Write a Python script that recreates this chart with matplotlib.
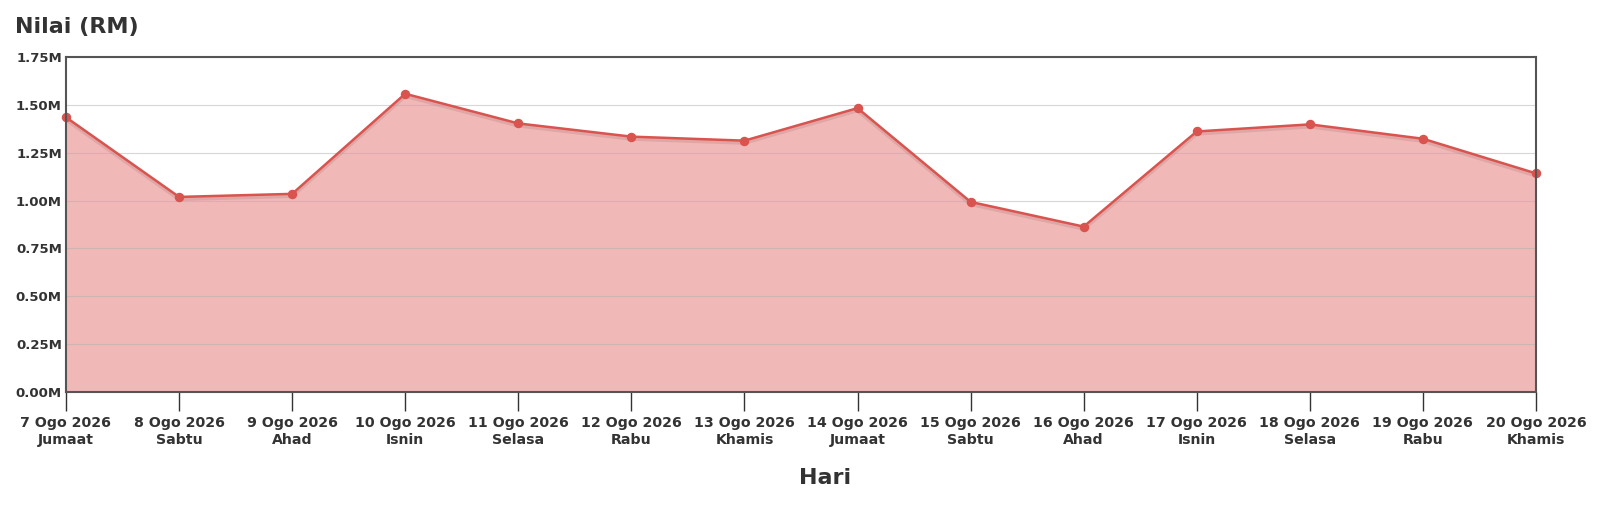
import matplotlib
matplotlib.use('Agg')
import matplotlib.pyplot as plt
import matplotlib.transforms as mtransforms
from matplotlib.ticker import FuncFormatter

# Data harian (nilai dalam juta RM)
tarikh = ['7 Ogo 2026', '8 Ogo 2026', '9 Ogo 2026', '10 Ogo 2026', '11 Ogo 2026',
          '12 Ogo 2026', '13 Ogo 2026', '14 Ogo 2026', '15 Ogo 2026', '16 Ogo 2026',
          '17 Ogo 2026', '18 Ogo 2026', '19 Ogo 2026', '20 Ogo 2026']
hari = ['Jumaat', 'Sabtu', 'Ahad', 'Isnin', 'Selasa', 'Rabu', 'Khamis',
        'Jumaat', 'Sabtu', 'Ahad', 'Isnin', 'Selasa', 'Rabu', 'Khamis']
nilai = [1.435, 1.019, 1.035, 1.558, 1.403, 1.334, 1.313,
         1.483, 0.993, 0.864, 1.361, 1.398, 1.323, 1.142]
y_ticks = [0, 0.25, 0.5, 0.75, 1.0, 1.25, 1.5, 1.75]

warna_garis = '#d9534f'
warna_isi = '#f0b9b8'
warna_teks = '#333333'

fig = plt.figure(figsize=(16, 5.23), dpi=100)
ax = fig.add_axes([66 / 1600, 1 - 392 / 523, 1470 / 1600, 335 / 523])

x = list(range(len(nilai)))
ax.fill_between(x, nilai, 0, color=warna_isi, zorder=1, linewidth=0)

# bayang garis
bayang = mtransforms.offset_copy(ax.transData, fig=fig, x=0, y=-1.5, units='points')
ax.plot(x, nilai, color='#c98a89', linewidth=3, alpha=0.4, transform=bayang, zorder=3)
ax.plot(x, nilai, color=warna_garis, linewidth=1.8, zorder=4)
ax.plot(x, nilai, 'o', color=warna_garis, markersize=5.8, zorder=5, clip_on=False)

ax.set_xlim(0, len(nilai) - 1)
ax.set_ylim(0, 1.75)
ax.set_yticks(y_ticks)
ax.yaxis.set_major_formatter(FuncFormatter(lambda v, p: f'{v:.2f}M'))
ax.grid(axis='y', color='#b0b0b0', alpha=0.5, linewidth=0.8, zorder=2)
ax.set_axisbelow(False)

ax.set_xticks(x)
ax.set_xticklabels([f'{t}\n{h}' for t, h in zip(tarikh, hari)],
                   fontsize=10.2, fontweight='bold', color=warna_teks, linespacing=1.2)
ax.tick_params(axis='x', length=13.5, width=1, color=warna_teks, pad=4)
ax.tick_params(axis='y', length=0, pad=3, labelsize=9.5, labelcolor=warna_teks)
for lbl in ax.get_yticklabels():
    lbl.set_fontweight('bold')

for sp in ax.spines.values():
    sp.set_color('#555555')
    sp.set_linewidth(1.5)
    sp.set_zorder(6)

ax.set_xlabel('Hari', fontsize=16, fontweight='bold', color=warna_teks)
ax.xaxis.set_label_coords(0.5165, -0.228)
fig.text(15 / 1600, 1 - 27 / 523, 'Nilai (RM)', fontsize=16, fontweight='bold',
         color=warna_teks, ha='left', va='center')

fig.savefig('out.png', dpi=100, facecolor='white')
